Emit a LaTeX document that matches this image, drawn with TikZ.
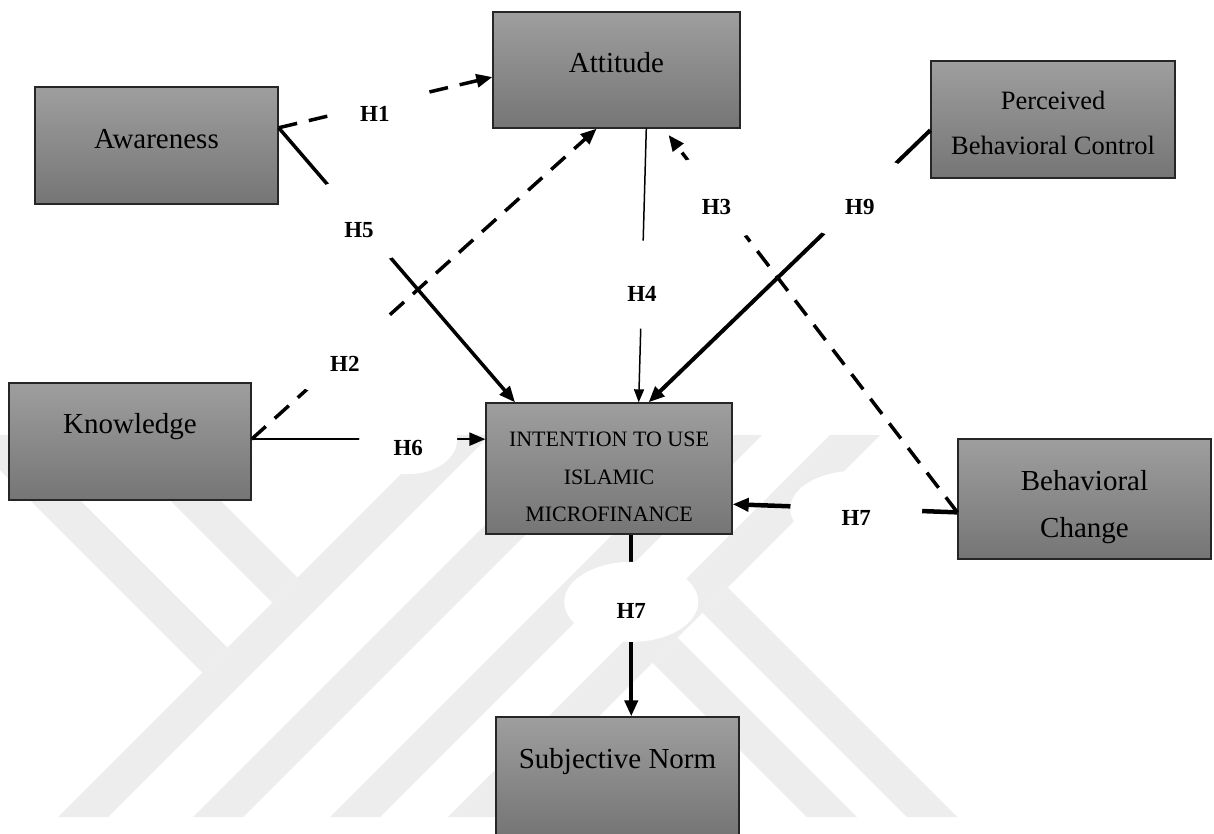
\documentclass[tikz,border=0pt]{standalone}
\usepackage{fontspec}
\setmainfont{Liberation Serif}
\usetikzlibrary{arrows.meta,calc,shapes.geometric}

\definecolor{wmark}{gray}{0.93}
\newcommand{\hyplab}[1]{\raisebox{-9pt}[\height][\depth]{#1}}

\begin{document}
\begin{tikzpicture}[
    x=1pt, y=-1pt,
    box/.style={rectangle, draw=black!85, line width=1.3pt, top color=black!38, bottom color=black!54, inner sep=0pt},
    boxtext/.style={font=\fontsize{29}{46}\selectfont, align=center, inner sep=0pt},
    captext/.style={font=\fontsize{22}{37.5}\selectfont, align=center, inner sep=0pt},
    hyp/.style={ellipse, fill=white, inner sep=0pt, minimum width=132pt, minimum height=84pt, font=\fontsize{23}{26}\selectfont\bfseries},
    arr/.style={-{Triangle[length=16pt,width=13pt]}, line width=3.5pt},
    thinarr/.style={-{Triangle[length=13pt,width=10pt]}, line width=1.5pt},
    dasharr/.style={-{Triangle[length=16pt,width=13pt]}, line width=3.5pt, dash pattern=on 19pt off 12pt},
]
    \useasboundingbox (0,0) rectangle (1214,833);
    \clip (0,0) rectangle (1214,833);
    \fill[white] (0,0) rectangle (1214,833);

    % watermark
    \foreach \s in {875,1010,1147,1265}
        \fill[wmark] (\s-817,817) -- (\s-767,817) -- (\s-385,435) -- (\s-435,435) -- cycle;
    \fill[wmark] (-35,435) -- (15,435) -- (227.5,647.5) -- (202.5,672.5) -- cycle;
    \fill[wmark] (105,435) -- (155,435) -- (297.5,577.5) -- (272.5,602.5) -- cycle;
    \fill[wmark] (652.5,662.5) -- (677.5,637.5) -- (857,817) -- (807,817) -- cycle;
    \fill[wmark] (702.5,612.5) -- (727.5,587.5) -- (957,817) -- (907,817) -- cycle;

    % constructs
    \node[box, minimum width=247pt, minimum height=116pt] (att) at (616.5,70) {};
    \node[box, minimum width=243pt, minimum height=117pt] (aware) at (156.5,145.5) {};
    \node[box, minimum width=244pt, minimum height=117pt] (pbc) at (1053,119.5) {};
    \node[box, minimum width=242pt, minimum height=117pt] (know) at (130,441.5) {};
    \node[box, minimum width=246pt, minimum height=131pt] (intent) at (609,468.5) {};
    \node[box, minimum width=253pt, minimum height=120pt] (bc) at (1084.5,499) {};
    \node[box, minimum width=243pt, minimum height=118pt] (norm) at (617.5,776) {};

    \node[boxtext, anchor=base] (att-t) at ([yshift=-2pt]att.center) {Attitude};
    \node[boxtext, anchor=base] (aware-t) at ([yshift=-2.5pt]aware.center) {Awareness};
    \node[boxtext, font=\fontsize{26.5}{45}\selectfont] (pbc-t) at ([yshift=-3.5pt]pbc.center) {Perceived\\Behavioral Control};
    \node[boxtext, anchor=base] (know-t) at ([yshift=8.5pt]know.center) {Knowledge};
    \node[captext] (intent-t) at ([yshift=-8.5pt]intent.center) {INTENTION TO USE\\ISLAMIC\\MICROFINANCE};
    \node[boxtext, font=\fontsize{29}{47}\selectfont] (bc-t) at ([yshift=-8pt]bc.center) {Behavioral\\Change};
    \node[boxtext, anchor=base] (norm-t) at ([yshift=8pt]norm.center) {Subjective Norm};

    % end points on the box edges
    \coordinate (aware-r) at ($(aware.north east)!.35!(aware.south east)$);
    \coordinate (know-r) at ($(know.north east)!.48!(know.south east)$);
    \coordinate (bc-l) at ($(bc.north west)!.61!(bc.south west)$);
    \coordinate (intent-b) at ($(intent.south west)!.59!(intent.south east)$);

    % hypotheses
    \draw[dasharr] (aware-r) -- node[hyp, pos=.45, minimum width=96pt, minimum height=56pt] (h1) {\hyplab{H1}} ($(att.north west)!.56!(att.south west)$);
    \draw[arr] (aware-r) -- node[hyp, pos=.34] (h5) {\hyplab{H5}} ($(intent.north west)!.12!(intent.north east)$);
    \draw[dasharr] (know-r) -- node[hyp, pos=.27] (h2) {\hyplab{H2}} ($(att.south west)!.42!(att.south east)$);
    \draw[arr, line width=2.3pt] (know-r) -- node[hyp, pos=.67, minimum width=98pt, minimum height=70pt] (h6) {\hyplab{H6}} (know-r -| intent.west);
    \draw[thinarr] ($(att.south west)!.62!(att.south east)$) -- node[hyp, pos=.57, minimum width=100pt, minimum height=88pt] (h4) {\hyplab{H4}} ($(intent.north west)!.62!(intent.north east)$);
    \draw[arr, line width=4pt] ($(pbc.north west)!.59!(pbc.south west)$) -- node[hyp, pos=.25] (h9) {\hyplab{H9}} ($(intent.north west)!.66!(intent.north east)$);
    \draw[dasharr, shorten >=8pt] (bc-l) -- node[hyp, pos=.82] (h3) {\hyplab{H3}} ($(att.south west)!.69!(att.south east)$);
    \draw[arr, line width=4.5pt] (bc-l) -- node[hyp, pos=.45, minimum height=76pt] (h7a) {\hyplab{H7}} ($(intent.north east)!.77!(intent.south east)$);
    \draw[arr, line width=4pt] (intent-b) -- node[hyp, pos=.37, minimum width=134pt, minimum height=80pt] (h7b) {\hyplab{H7}} (intent-b |- norm.north);
\end{tikzpicture}
\end{document}
